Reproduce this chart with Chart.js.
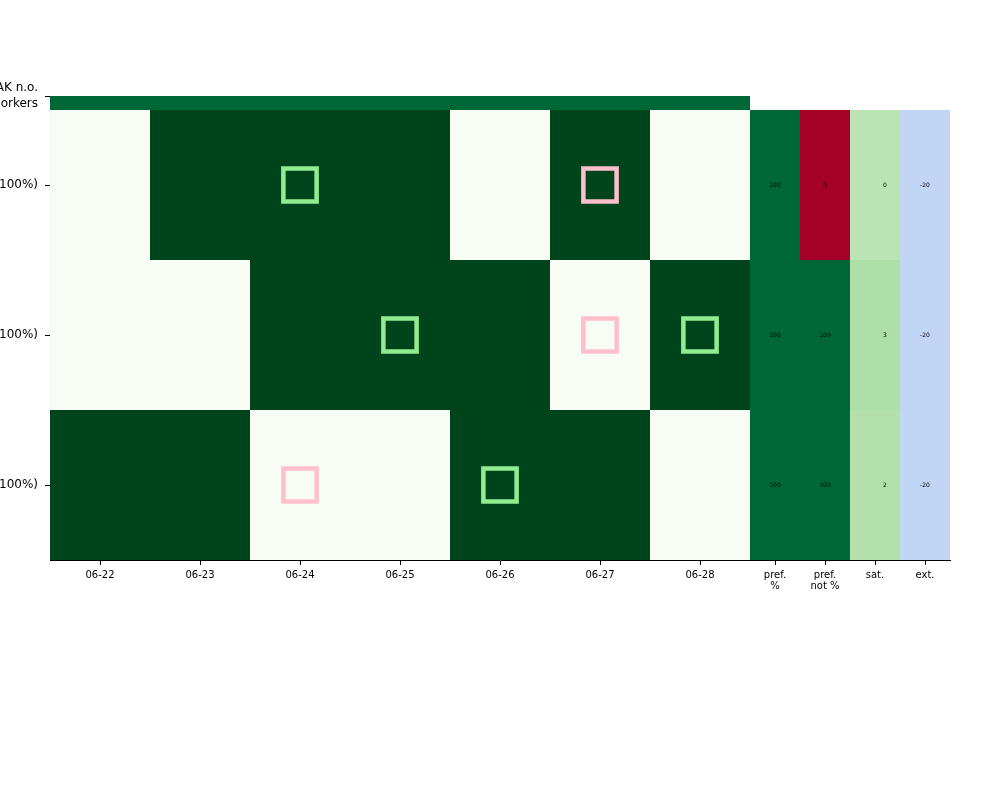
<!DOCTYPE html>
<html><head><meta charset="utf-8">
<script src="https://cdn.jsdelivr.net/npm/chart.js@4.4.0/dist/chart.umd.min.js"></script>
<style>html,body{margin:0;padding:0;background:#fff;} #wrap{width:1000px;height:800px;}</style>
</head><body><div id="wrap"><canvas id="c" width="1000" height="800"></canvas></div>
<script>
// ---------- data ----------
const days = ['06-22','06-23','06-24','06-25','06-26','06-27','06-28'];
const extraCols = [['pref.','%'],['pref.','not %'],['sat.'],['ext.']];
const rowLabels = ['Team A (100%)','Team B (100%)','Team C (100%)']; // top to bottom
const topLabel = ['PEAK n.o.','workers'];
// 1 = assigned (dark), 0 = free (light); rows top to bottom
const occupancy = [
  [0,1,1,1,0,1,0],
  [0,0,1,1,1,0,1],
  [1,1,0,0,1,1,0]
];
const prefPct    = [100,100,100];
const prefNotPct = [0,100,100];
const sat        = [0,3,2];
const ext        = [-20,-20,-20];
const preferredMarks = [[0,'06-24'],[1,'06-25'],[1,'06-28'],[2,'06-26']];
const unwantedMarks  = [[0,'06-27'],[1,'06-27'],[2,'06-24']];

// ---------- helpers ----------
const nRows = rowLabels.length;
const topBand = 14/150;
const dayCenter = d => 2*days.indexOf(d) + 1;
const rowCenter = r => nRows - r - 0.5;
const hex = h => [1,3,5].map(i=>parseInt(h.substr(i,2),16));
const mix = (a,b,t) => { const A=hex(a),B=hex(b); return 'rgb('+A.map((v,i)=>Math.round(v+(B[i]-v)*t)).join(',')+')'; };
const occColor  = v => v ? '#00441b' : '#f7fcf5';
const prefColor = v => mix('#a50026','#006837', v/100);
const satColor  = v => mix('#bbe4b4','#a6dba0', v/5);
const extColor  = v => '#c1d5f4';
const extraData = [prefPct, prefNotPct, sat, ext];
const extraColor = [prefColor, prefColor, satColor, extColor];
const extraTextOffset = [0,0,0.2,0];

const xTicks = days.map((d,i)=>2*i+1).concat(extraCols.map((c,j)=>14.5+j));
const xLabels = days.concat(extraCols);
const yTicks = rowLabels.map((l,r)=>rowCenter(r)).concat([nRows+topBand]);
const yLabels = rowLabels.slice().concat([topLabel]);

const cellPlugin = {
  id: 'cells',
  beforeDatasetsDraw(chart) {
    const {ctx, scales:{x, y}} = chart;
    const rect = (x0,x1,y0,y1,color) => {
      const px0 = x.getPixelForValue(x0), px1 = x.getPixelForValue(x1);
      const py0 = y.getPixelForValue(y0), py1 = y.getPixelForValue(y1);
      ctx.fillStyle = color;
      ctx.fillRect(Math.round(Math.min(px0,px1)), Math.round(Math.min(py0,py1)),
                   Math.round(Math.abs(px1-px0)), Math.round(Math.abs(py1-py0)));
    };
    ctx.save();
    // top band
    rect(0, 2*days.length, nRows, nRows+topBand, '#006837');
    // day cells
    occupancy.forEach((row, r) => row.forEach((v, i) => {
      rect(2*i, 2*i+2, nRows-r-1, nRows-r, occColor(v));
    }));
    // extra columns
    extraData.forEach((col, j) => col.forEach((v, r) => {
      rect(14+j, 15+j, nRows-r-1, nRows-r, extraColor[j](v));
    }));
    // texts
    ctx.fillStyle = '#000';
    ctx.font = '6px "DejaVu Sans"';
    ctx.textAlign = 'center';
    ctx.textBaseline = 'middle';
    extraData.forEach((col, j) => col.forEach((v, r) => {
      ctx.fillText(String(v), x.getPixelForValue(14.5+j+extraTextOffset[j]), y.getPixelForValue(rowCenter(r)));
    }));
    ctx.restore();
  }
};

const markPoints = arr => arr.map(([r,d]) => ({x: dayCenter(d), y: rowCenter(r)}));

new Chart(document.getElementById('c'), {
  type: 'scatter',
  data: {
    datasets: [
      { data: markPoints(preferredMarks), pointStyle: 'rect', pointRadius: 23.5, pointHoverRadius: 23.5,
        borderColor: '#90ee90', backgroundColor: 'rgba(0,0,0,0)', borderWidth: 4.5, pointHoverBorderWidth: 4.5 },
      { data: markPoints(unwantedMarks), pointStyle: 'rect', pointRadius: 23.5, pointHoverRadius: 23.5,
        borderColor: '#ffc0cb', backgroundColor: 'rgba(0,0,0,0)', borderWidth: 4.5, pointHoverBorderWidth: 4.5 }
    ]
  },
  options: {
    responsive: false,
    devicePixelRatio: 1,
    animation: false,
    events: [],
    layout: { padding: { top: 96, right: 50, left: 0, bottom: 0 } },
    plugins: { legend: { display: false }, tooltip: { enabled: false } },
    scales: {
      x: {
        type: 'linear', min: 0, max: 18,
        afterFit: s => { s.height = 240; },
        afterBuildTicks: s => { s.ticks = xTicks.map(v => ({value: v})); },
        ticks: {
          autoSkip: false, maxRotation: 0, minRotation: 0, padding: 5,
          color: '#000', font: { family: 'DejaVu Sans', size: 10, lineHeight: 1.1 },
          callback: (v, i) => xLabels[i]
        },
        grid: { display: true, drawOnChartArea: false, drawTicks: true, tickLength: 5, color: '#000', lineWidth: 1 },
        border: { display: true, color: '#000', width: 1 }
      },
      y: {
        type: 'linear', min: 0, max: nRows + topBand,
        afterFit: s => { s.width = 50; },
        afterBuildTicks: s => { s.ticks = yTicks.map(v => ({value: v})); },
        ticks: {
          autoSkip: false, padding: 7,
          color: '#000', font: { family: 'DejaVu Sans', size: 12, lineHeight: 1.35 },
          callback: (v, i) => yLabels[i]
        },
        grid: { display: true, drawOnChartArea: false, drawTicks: true, tickLength: 5, color: '#000', lineWidth: 1 },
        border: { display: true, color: '#000', width: 1 }
      }
    }
  },
  plugins: [cellPlugin]
});
</script>
</body></html>
